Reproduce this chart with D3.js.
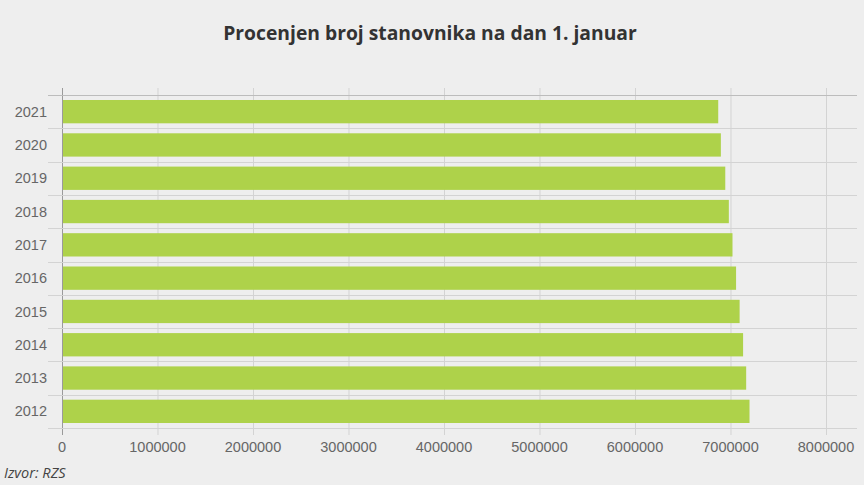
<!DOCTYPE html>
<html>
<head>
<meta charset="utf-8">
<script src="https://cdn.jsdelivr.net/npm/d3@7"></script>
<style>
  html, body { margin: 0; padding: 0; background: #eeeeee; }
  #chart { width: 864px; height: 485px; }
</style>
</head>
<body>
<div id="chart"></div>
<script>
const years = ["2021", "2020", "2019", "2018", "2017", "2016", "2015", "2014", "2013", "2012"];
const population = [6871547, 6899126, 6945235, 6982604, 7020858, 7058322, 7095383, 7131787, 7164132, 7199077];
const xTicks = [0, 1000000, 2000000, 3000000, 4000000, 5000000, 6000000, 7000000, 8000000];

document.addEventListener("DOMContentLoaded", () => {
  const W = 864, H = 485;
  const left = 62, right = 857, top = 95, bottom = 428;

  const svg = d3.select("#chart")
    .append("svg")
    .attr("width", W)
    .attr("height", H);

  svg.append("rect")
    .attr("width", W)
    .attr("height", H)
    .attr("fill", "#eeeeee");

  // Naslov
  svg.append("text")
    .attr("x", 430)
    .attr("y", 40)
    .attr("text-anchor", "middle")
    .style("font-family", "'Open Sans', sans-serif")
    .style("font-weight", "bold")
    .style("font-size", "19.3px")
    .attr("fill", "#333")
    .text("Procenjen broj stanovnika na dan 1. januar");

  const x = d3.scaleLinear()
    .domain([0, 8000000])
    .range([left, 826]);

  const y = d3.scaleBand()
    .domain(years)
    .range([top, bottom])
    .paddingInner(0.3)
    .paddingOuter(0.15);

  // Vertikalne linije mreze
  svg.append("g")
    .selectAll("line")
    .data(xTicks)
    .join("line")
    .attr("x1", d => x(d) + 0.5)
    .attr("x2", d => x(d) + 0.5)
    .attr("y1", top - 7)
    .attr("y2", bottom + 7)
    .attr("stroke", d => d === 0 ? "#9a9a9a" : "#d3d3d3")
    .attr("stroke-width", 1);

  // Horizontalne linije mreze (granice kategorija)
  const step = y.step();
  const rowEdges = d3.range(years.length + 1).map(i => top + i * step);
  svg.append("g")
    .selectAll("line")
    .data(rowEdges)
    .join("line")
    .attr("x1", left - 14)
    .attr("x2", right)
    .attr("y1", d => Math.round(d) + 0.5)
    .attr("y2", d => Math.round(d) + 0.5)
    .attr("stroke", (d, i) => i === 0 ? "#bcbcbc" : "#d3d3d3")
    .attr("stroke-width", 1);

  // Stubici
  svg.append("g")
    .selectAll("rect")
    .data(years.map((yr, i) => ({ year: yr, value: population[i] })))
    .join("rect")
    .attr("x", x(0) + 1)
    .attr("y", d => y(d.year))
    .attr("width", d => x(d.value) - x(0) - 1)
    .attr("height", y.bandwidth())
    .attr("fill", "#aed24a");

  // Oznake godina
  svg.append("g")
    .selectAll("text")
    .data(years)
    .join("text")
    .attr("x", 47)
    .attr("y", d => y(d) + y.bandwidth() / 2)
    .attr("dy", "0.35em")
    .attr("text-anchor", "end")
    .style("font-family", "'Liberation Sans', Arial, sans-serif")
    .style("font-size", "14.5px")
    .attr("fill", "#666")
    .text(d => d);

  // Oznake x ose
  svg.append("g")
    .selectAll("text")
    .data(xTicks)
    .join("text")
    .attr("x", d => x(d))
    .attr("y", 447)
    .attr("dy", "0.35em")
    .attr("text-anchor", "middle")
    .style("font-family", "'Liberation Sans', Arial, sans-serif")
    .style("font-size", "14.5px")
    .attr("fill", "#666")
    .text(d => d3.format("d")(d));

  // Izvor
  svg.append("text")
    .attr("x", 4)
    .attr("y", 478)
    .style("font-family", "'Open Sans', sans-serif")
    .style("font-style", "italic")
    .style("font-size", "14.5px")
    .attr("fill", "#444")
    .text("Izvor: RZS");
});
</script>
</body>
</html>
